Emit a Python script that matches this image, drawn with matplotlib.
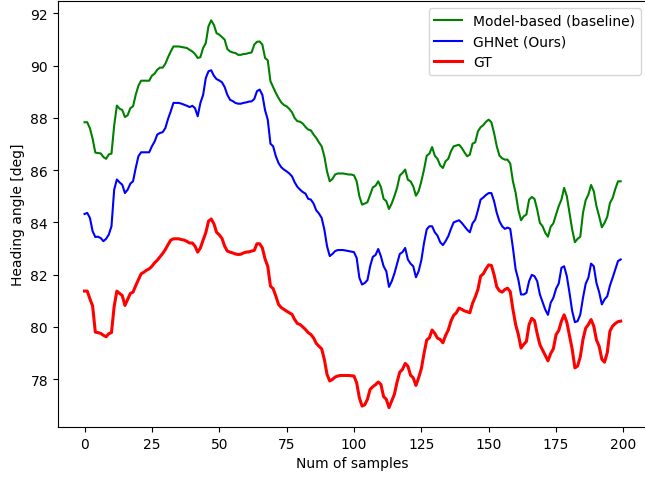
import matplotlib
matplotlib.use("Agg")
import matplotlib.pyplot as plt
import numpy as np

samples = list(range(200))

model_based = [
    87.83, 87.83, 87.60, 87.20, 86.67, 86.65, 86.64, 86.50, 86.43, 86.60,
    86.63, 87.70, 88.47, 88.35, 88.30, 88.03, 88.10, 88.37, 88.44, 88.88,
    89.23, 89.42, 89.42, 89.42, 89.42, 89.61, 89.69, 89.84, 89.92, 89.92,
    90.07, 90.32, 90.54, 90.73, 90.73, 90.73, 90.71, 90.69, 90.67, 90.60,
    90.54, 90.44, 90.29, 90.32, 90.67, 90.86, 91.50, 91.73, 91.56, 91.24,
    91.18, 91.09, 90.99, 90.63, 90.54, 90.50, 90.48, 90.41, 90.41, 90.44,
    90.45, 90.48, 90.50, 90.80, 90.91, 90.92, 90.80, 90.29, 90.20, 89.40,
    89.18, 88.95, 88.76, 88.59, 88.49, 88.44, 88.34, 88.21, 87.99, 87.87,
    87.85, 87.78, 87.65, 87.55, 87.52, 87.36, 87.23, 87.06, 86.91, 86.53,
    85.95, 85.57, 85.66, 85.83, 85.87, 85.87, 85.87, 85.85, 85.83, 85.83,
    85.80, 85.57, 85.00, 84.68, 84.72, 84.77, 85.06, 85.34, 85.40, 85.57,
    85.35, 84.90, 84.81, 84.51, 84.72, 85.00, 85.32, 85.79, 85.89, 86.02,
    85.63, 85.57, 85.38, 85.02, 85.19, 85.57, 86.02, 86.55, 86.63, 86.88,
    86.55, 86.43, 86.18, 86.08, 86.34, 86.43, 86.72, 86.91, 86.94, 86.97,
    86.85, 86.68, 86.53, 86.59, 87.01, 87.06, 87.48, 87.64, 87.72, 87.85,
    87.93, 87.83, 87.42, 86.91, 86.55, 86.45, 86.40, 86.40, 86.25, 85.57,
    85.13, 84.48, 84.08, 84.23, 84.30, 84.87, 84.97, 84.90, 84.49, 83.98,
    83.85, 83.60, 83.45, 83.83, 83.96, 84.30, 84.62, 84.87, 85.32, 85.00,
    84.36, 83.72, 83.24, 83.37, 83.45, 84.36, 84.85, 85.06, 85.43, 85.19,
    84.62, 84.23, 83.81, 83.98, 84.21, 84.74, 84.93, 85.28, 85.57, 85.57,
]

ghnet = [
    84.32, 84.36, 84.17, 83.66, 83.44, 83.45, 83.40, 83.28, 83.37, 83.53,
    83.85, 85.25, 85.64, 85.53, 85.44, 85.12, 85.25, 85.48, 85.57, 86.08,
    86.53, 86.68, 86.68, 86.68, 86.68, 86.91, 87.09, 87.36, 87.42, 87.45,
    87.61, 87.96, 88.25, 88.57, 88.57, 88.57, 88.54, 88.50, 88.46, 88.41,
    88.46, 88.37, 88.06, 88.57, 88.87, 89.52, 89.78, 89.82, 89.61, 89.48,
    89.43, 89.36, 89.18, 88.88, 88.69, 88.64, 88.57, 88.54, 88.54, 88.57,
    88.59, 88.62, 88.63, 88.72, 89.02, 89.08, 88.88, 88.29, 87.93, 87.01,
    86.91, 86.53, 86.27, 86.11, 86.02, 85.95, 85.87, 85.76, 85.53, 85.36,
    85.25, 85.16, 85.10, 84.90, 84.87, 84.72, 84.46, 84.34, 84.17, 83.73,
    83.09, 82.71, 82.79, 82.90, 82.94, 82.94, 82.94, 82.92, 82.90, 82.88,
    82.86, 82.64, 81.88, 81.62, 81.68, 81.79, 82.32, 82.68, 82.75, 82.98,
    82.70, 82.32, 82.13, 81.53, 81.74, 82.04, 82.42, 82.79, 82.86, 83.02,
    82.58, 82.42, 82.32, 81.90, 82.13, 82.55, 83.21, 83.73, 83.85, 83.85,
    83.62, 83.49, 83.24, 83.13, 83.28, 83.47, 83.75, 84.00, 84.04, 84.08,
    83.98, 83.85, 83.72, 83.62, 83.96, 84.10, 84.46, 84.87, 84.95, 85.05,
    85.12, 85.12, 84.81, 84.36, 84.04, 83.85, 83.75, 83.80, 83.75, 83.02,
    82.20, 81.81, 81.24, 81.24, 81.30, 81.75, 81.99, 81.94, 81.75, 81.24,
    80.95, 80.66, 80.46, 80.92, 81.11, 81.46, 81.66, 82.26, 82.32, 81.94,
    81.30, 80.60, 80.18, 80.22, 80.47, 81.11, 81.65, 81.88, 82.42, 82.32,
    81.68, 81.33, 80.86, 81.05, 81.17, 81.58, 81.88, 82.20, 82.52, 82.58,
]

gt = [
    81.37, 81.37, 81.07, 80.80, 79.80, 79.78, 79.75, 79.68, 79.62, 79.74,
    79.78, 80.79, 81.37, 81.28, 81.20, 80.82, 81.05, 81.28, 81.33, 81.58,
    81.81, 82.03, 82.09, 82.17, 82.22, 82.32, 82.45, 82.55, 82.68, 82.81,
    82.96, 83.15, 83.32, 83.37, 83.37, 83.37, 83.34, 83.32, 83.27, 83.21,
    83.21, 83.09, 82.86, 83.02, 83.32, 83.60, 84.04, 84.13, 83.95, 83.62,
    83.52, 83.39, 83.09, 82.90, 82.86, 82.83, 82.79, 82.77, 82.78, 82.83,
    82.86, 82.87, 82.90, 82.93, 83.18, 83.18, 83.02, 82.60, 82.32, 81.56,
    81.46, 81.18, 80.86, 80.74, 80.67, 80.60, 80.54, 80.48, 80.28, 80.13,
    80.09, 80.00, 79.90, 79.78, 79.71, 79.58, 79.37, 79.26, 79.16, 78.76,
    78.18, 77.93, 77.99, 78.08, 78.12, 78.14, 78.14, 78.14, 78.14, 78.13,
    78.12, 77.86, 77.29, 76.97, 77.02, 77.23, 77.61, 77.71, 77.79, 77.89,
    77.80, 77.33, 77.23, 76.91, 77.16, 77.42, 77.89, 78.27, 78.37, 78.60,
    78.50, 78.15, 78.05, 77.76, 78.05, 78.40, 78.98, 79.50, 79.58, 79.88,
    79.75, 79.57, 79.52, 79.39, 79.67, 79.88, 80.22, 80.44, 80.54, 80.72,
    80.67, 80.61, 80.58, 80.54, 80.90, 81.14, 81.43, 81.94, 82.03, 82.22,
    82.37, 82.35, 82.00, 81.53, 81.38, 81.33, 81.43, 81.48, 81.35, 80.67,
    80.09, 79.71, 79.19, 79.33, 79.44, 80.09, 80.33, 80.24, 79.74, 79.32,
    79.11, 78.91, 78.70, 78.98, 79.16, 79.70, 79.86, 80.22, 80.46, 80.18,
    79.65, 79.14, 78.43, 78.50, 78.86, 79.52, 79.95, 80.09, 80.28, 80.03,
    79.50, 79.26, 78.76, 78.65, 79.01, 79.84, 80.03, 80.13, 80.20, 80.22,
]

labels = ["Model-based (baseline)", "GHNet (Ours)", "GT"]

fig = plt.figure(figsize=(6.45, 4.81), dpi=100)
ax = fig.add_axes([0.0895, 0.1102, 0.9144, 0.8857])
ax.plot(samples, model_based, color="green", linewidth=1.5, label=labels[0])
ax.plot(samples, ghnet, color="blue", linewidth=1.5, label=labels[1])
ax.plot(samples, gt, color="red", linewidth=2.2, label=labels[2])
ax.spines["right"].set_visible(False)
ax.set_xlabel("Num of samples")
ax.set_ylabel("Heading angle [deg]")
ax.legend(loc="upper right")
fig.savefig("out.png", dpi=100)
